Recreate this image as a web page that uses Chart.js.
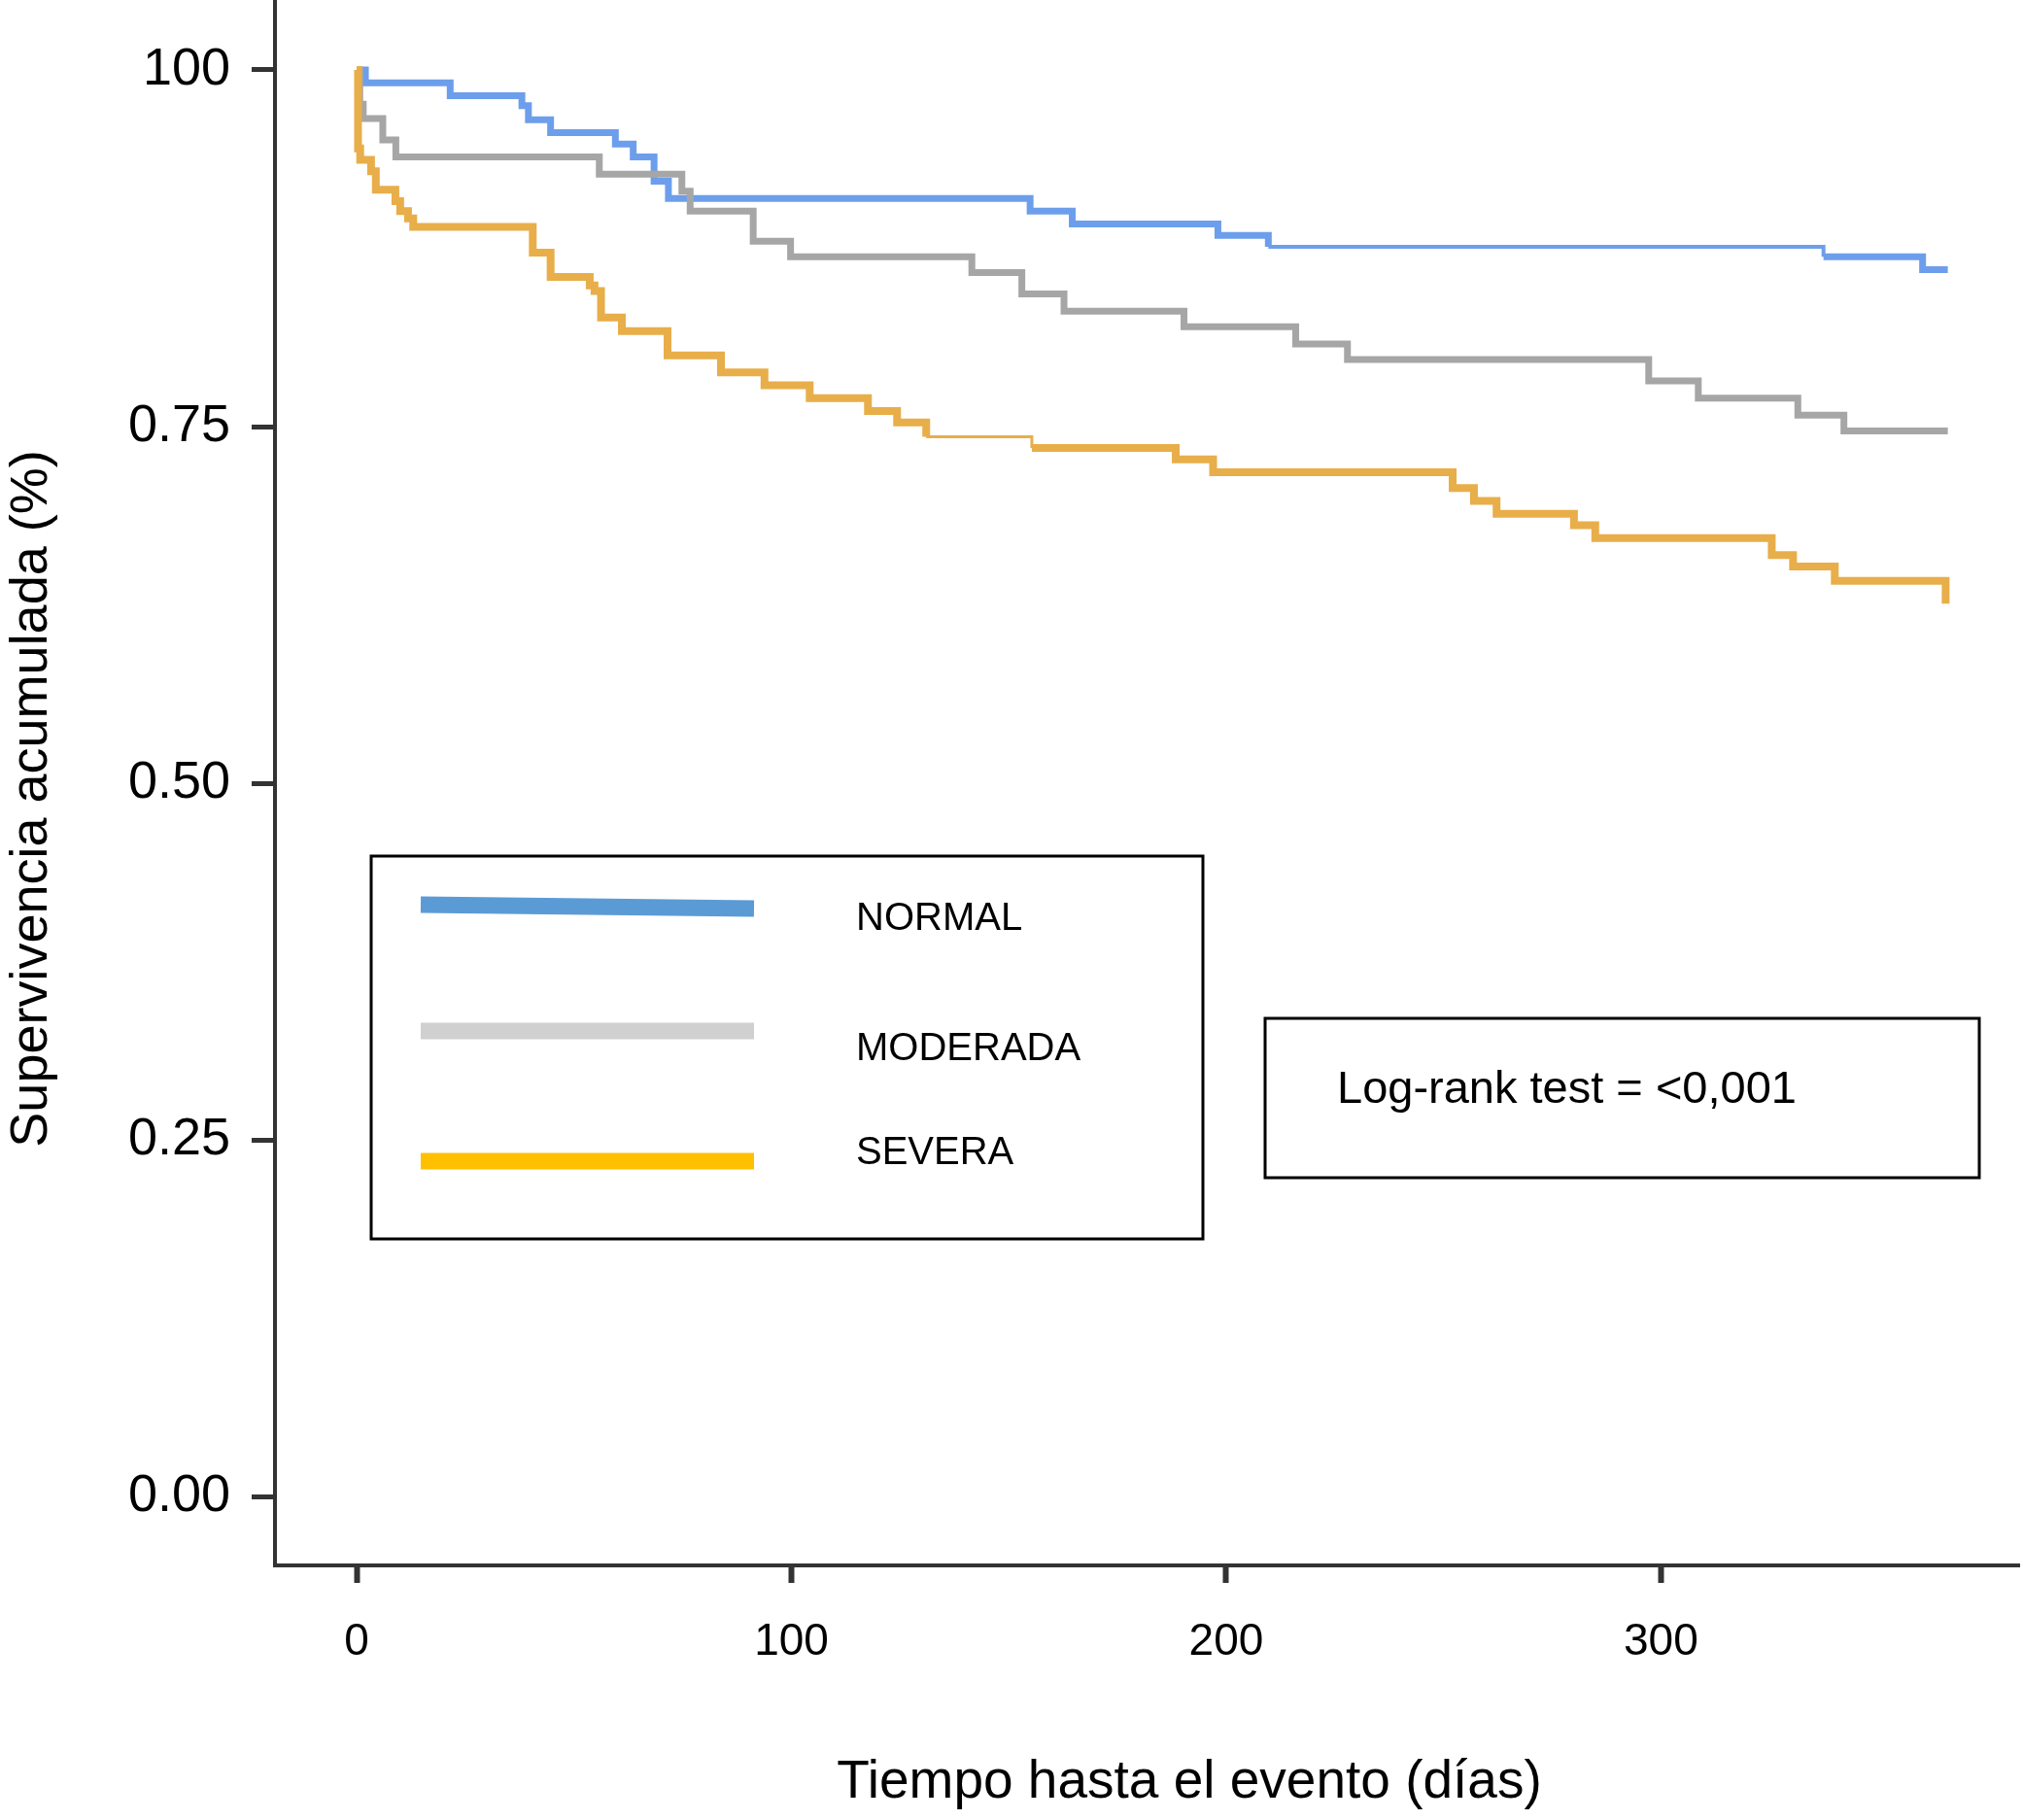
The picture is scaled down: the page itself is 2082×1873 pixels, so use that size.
<!DOCTYPE html>
<html>
<head>
<meta charset="utf-8">
<script src="https://cdn.jsdelivr.net/npm/chart.js@4.4.1/dist/chart.umd.min.js"></script>
<style>
  html, body { margin: 0; padding: 0; background: #fff; }
  canvas { display: block; }
</style>
</head>
<body>
<canvas id="km" width="2082" height="1873"></canvas>
<script>
// Kaplan-Meier curves (days, survival)
const timeNormal = [0, 2, 21.5, 38, 39.5, 44.6, 59.5, 63.6, 68.4, 71.7, 154.9, 164.6, 198.1, 209.7, 337.4, 360.2, 366];
const survNormal = [1.0, 0.991, 0.982, 0.975, 0.965, 0.956, 0.948, 0.939, 0.922, 0.910, 0.901, 0.892, 0.884, 0.876, 0.869, 0.860, 0.860];

const timeModerada = [0, 0.7, 1.5, 6, 9, 55.8, 74.8, 76.7, 91.2, 99.8, 141.5, 153, 162.7, 190.3, 216, 227.9, 297.2, 308.6, 331.5, 342.1, 366];
const survModerada = [1.0, 0.976, 0.966, 0.951, 0.939, 0.927, 0.915, 0.901, 0.880, 0.869, 0.858, 0.843, 0.831, 0.820, 0.808, 0.797, 0.782, 0.770, 0.758, 0.747, 0.747];

const timeSevera = [0, 0.3, 0.8, 3.3, 4.4, 8.9, 10, 11.8, 13, 40.5, 44.6, 53.6, 54.7, 56.2, 61, 71.5, 83.8, 93.8, 104.2, 117.6, 124.3, 131, 155.3, 188.4, 197, 252.1, 257, 262.2, 280, 284.9, 325.5, 330.4, 340, 365.5];
const survSevera = [1.0, 0.945, 0.937, 0.929, 0.916, 0.908, 0.901, 0.896, 0.890, 0.872, 0.855, 0.849, 0.845, 0.8265, 0.817, 0.800, 0.788, 0.779, 0.770, 0.761, 0.753, 0.743, 0.735, 0.727, 0.718, 0.707, 0.698, 0.689, 0.681, 0.672, 0.660, 0.652, 0.642, 0.626];

const groups = ['NORMAL', 'MODERADA', 'SEVERA'];
const xTicks = [0, 100, 200, 300];
const yTicks = [0, 0.25, 0.5, 0.75, 1];
const yTickLabels = ['0.00', '0.25', '0.50', '0.75', '100'];
const logRankText = 'Log-rank test = <0,001';

const FONT = '"Liberation Sans", Arial, Helvetica, sans-serif';
const INK = '#333333';

function pts(t, s) {
  return t.map((v, i) => ({ x: v, y: s[i] }));
}

// a few stretches of the curves are drawn thinner in the original
function thinBetween(a, b, thick, thin) {
  return ctx => {
    const x0 = ctx.p0.parsed.x;
    return (x0 >= a && x0 < b) ? thin : thick;
  };
}

const overlay = {
  id: 'overlay',
  afterDraw(chart) {
    const c = chart.ctx;
    c.save();
    c.fillStyle = '#000';

    // axis titles
    c.font = '54px ' + FONT;
    c.textAlign = 'center';
    c.textBaseline = 'middle';
    c.save();
    c.translate(33, 822);
    c.rotate(-Math.PI / 2);
    c.fillText('Supervivencia acumulada (%)', 0, 0);
    c.restore();

    c.font = '55px ' + FONT;
    c.textBaseline = 'alphabetic';
    c.fillText('Tiempo hasta el evento (días)', 1224, 1850);

    // legend box
    c.strokeStyle = '#000';
    c.lineWidth = 3;
    c.strokeRect(382, 881, 856, 394);
    const swatch = ['#5b9bd5', '#d0d0d0', '#ffc000'];
    const lineY = [[931, 935], [1061, 1061], [1195, 1195]];
    const textY = [946, 1080, 1187];
    c.lineCap = 'butt';
    groups.forEach((g, i) => {
      c.strokeStyle = swatch[i];
      c.lineWidth = 17;
      c.beginPath();
      c.moveTo(433, lineY[i][0]);
      c.lineTo(776, lineY[i][1]);
      c.stroke();
      c.font = '40px ' + FONT;
      c.textAlign = 'left';
      c.textBaseline = 'middle';
      c.fillText(g, 881, textY[i]);
    });

    // log-rank box
    c.strokeStyle = '#000';
    c.lineWidth = 3;
    c.strokeRect(1302, 1048, 735, 164);
    c.font = '47px ' + FONT;
    c.textAlign = 'left';
    c.textBaseline = 'alphabetic';
    c.fillText(logRankText, 1376, 1135);
    c.restore();
  }
};

new Chart(document.getElementById('km'), {
  type: 'line',
  data: {
    datasets: [
      {
        label: groups[0],
        data: pts(timeNormal, survNormal),
        borderColor: '#6d9eeb',
        borderWidth: 7,
        segment: { borderWidth: thinBetween(209.7, 337.4, 7, 4) },
        order: 3
      },
      {
        label: groups[1],
        data: pts(timeModerada, survModerada),
        borderColor: '#a6a6a6',
        borderWidth: 7,
        order: 2
      },
      {
        label: groups[2],
        data: pts(timeSevera, survSevera),
        borderColor: '#e8ae4a',
        borderWidth: 8,
        segment: { borderWidth: thinBetween(131, 155.3, 8, 3) },
        order: 1
      }
    ]
  },
  options: {
    responsive: false,
    animation: false,
    devicePixelRatio: 1,
    layout: { padding: { left: 0, right: 4, top: 0, bottom: 0 } },
    elements: {
      point: { radius: 0 },
      line: { stepped: true, tension: 0, borderCapStyle: 'butt', borderJoinStyle: 'miter' }
    },
    plugins: {
      legend: { display: false },
      tooltip: { enabled: false }
    },
    scales: {
      x: {
        type: 'linear',
        min: -18.8,
        max: 382.4,
        afterFit(scale) {
          scale.height = 262;
          scale.paddingLeft = 0;
          scale.paddingRight = 0;
        },
        afterBuildTicks(scale) { scale.ticks = xTicks.map(v => ({ value: v })); },
        grid: {
          drawOnChartArea: false,
          drawTicks: true,
          tickLength: 18,
          tickWidth: 6,
          tickColor: INK
        },
        border: { display: true, color: INK, width: 4 },
        ticks: {
          padding: 34,
          color: '#000',
          font: { family: FONT, size: 46 },
          callback: v => String(v)
        }
      },
      y: {
        type: 'linear',
        min: -0.048,
        max: 1.049,
        afterFit(scale) {
          scale.width = 283;
          scale.paddingTop = 0;
          scale.paddingBottom = 0;
        },
        afterBuildTicks(scale) { scale.ticks = yTicks.map(v => ({ value: v })); },
        grid: {
          drawOnChartArea: false,
          drawTicks: true,
          tickLength: 24,
          tickWidth: 5,
          tickColor: INK
        },
        border: { display: true, color: INK, width: 4 },
        ticks: {
          padding: 22,
          color: '#000',
          font: { family: FONT, size: 54 },
          callback: v => yTickLabels[yTicks.indexOf(v)]
        }
      }
    }
  },
  plugins: [overlay]
});
</script>
</body>
</html>
